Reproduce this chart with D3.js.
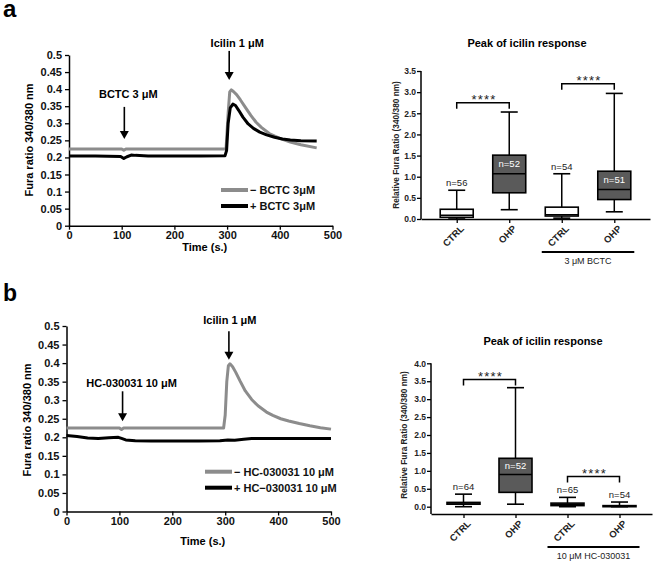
<!DOCTYPE html>
<html>
<head>
<meta charset="utf-8">
<script src="https://cdn.jsdelivr.net/npm/d3@7"></script>
<style>
  body { margin: 0; background: #fff; }
  svg { display: block; font-family: "Liberation Sans", Arial, sans-serif; }
</style>
</head>
<body>
<svg id="fig" width="660" height="563"></svg>
<script>
// ---- traces (time in s., Fura ratio 340/380) ----
const minusBctcT = [0, 50, 100, 104, 108, 150, 200, 250, 298, 302, 305, 308, 312, 318, 325, 335, 345, 355, 365, 380, 400, 420, 440, 470];
const minusBctc  = [0.225, 0.225, 0.225, 0.221, 0.225, 0.225, 0.225, 0.225, 0.225, 0.33, 0.392, 0.398, 0.393, 0.384, 0.369, 0.346, 0.323, 0.303, 0.288, 0.27, 0.256, 0.245, 0.237, 0.228];
const plusBctcT  = [0, 50, 98, 104, 110, 118, 126, 150, 200, 250, 296, 299, 302, 306, 311, 316, 322, 330, 340, 350, 362, 375, 390, 405, 420, 440, 470];
const plusBctc   = [0.204, 0.204, 0.203, 0.197, 0.202, 0.207, 0.206, 0.204, 0.204, 0.204, 0.205, 0.22, 0.3, 0.345, 0.356, 0.352, 0.338, 0.318, 0.298, 0.285, 0.274, 0.266, 0.259, 0.254, 0.251, 0.249, 0.248];

const minusHcT = [0, 100, 104, 108, 200, 297, 300, 303, 306, 309, 314, 320, 328, 338, 350, 362, 378, 390, 405, 420, 440, 460, 480, 500];
const minusHc  = [0.225, 0.225, 0.221, 0.225, 0.225, 0.225, 0.26, 0.35, 0.393, 0.398, 0.39, 0.375, 0.352, 0.325, 0.302, 0.285, 0.268, 0.259, 0.25, 0.244, 0.237, 0.231, 0.226, 0.222];
const plusHcT  = [0, 20, 40, 60, 80, 98, 104, 112, 130, 160, 200, 250, 290, 305, 318, 335, 350, 400, 450, 500];
const plusHc   = [0.205, 0.202, 0.198, 0.197, 0.199, 0.2, 0.197, 0.193, 0.191, 0.19, 0.19, 0.19, 0.191, 0.193, 0.192, 0.195, 0.197, 0.197, 0.197, 0.197];

const timeTicks  = [0, 100, 200, 300, 400, 500];
const ratioTicks = [0, 0.05, 0.1, 0.15, 0.2, 0.25, 0.3, 0.35, 0.4, 0.45, 0.5];

// ---- peak of icilin response: [min, q1, median, q3, max] ----
const groups = ['CTRL', 'OHP', 'CTRL', 'OHP'];
const boxStatsA = [[0.0, 0.04, 0.09, 0.23, 0.68], [0.22, 0.62, 1.07, 1.51, 2.53], [0.02, 0.07, 0.1, 0.28, 1.07], [0.17, 0.46, 0.7, 1.13, 2.97]];
const boxStatsB = [[0.0, 0.07, 0.1, 0.12, 0.35], [0.07, 0.4, 0.9, 1.35, 3.32], [0.0, 0.03, 0.07, 0.1, 0.26], [0.0, 0.0, 0.01, 0.03, 0.13]];
const nA = [56, 52, 54, 51];
const nB = [64, 52, 65, 54];
const ticksA = [0, 0.5, 1.0, 1.5, 2.0, 2.5, 3.0, 3.5];
const ticksB = [0, 0.5, 1.0, 1.5, 2.0, 2.5, 3.0, 3.5, 4.0];
// [from, to, height]
const bracketsA = [[0, 1, 2.75], [2, 3, 3.2]];
const bracketsB = [[0, 1, 3.55], [2, 3, 0.84]];

const GRAY = '#8c8c8c', DARK = '#5a5a5a';
const svg = d3.select('#fig');

function lineChart(g, o) {
	const x = d3.scaleLinear().domain([0, 500]).range([o.x0, o.x1]);
	const y = d3.scaleLinear().domain([0, 0.5]).range([o.y0, o.y1]);

	const yAx = g.append('g')
		.attr('transform', 'translate(' + o.x0 + ',0)')
		.call(d3.axisLeft(y).tickValues(ratioTicks).tickSize(4).tickSizeOuter(0)
			.tickFormat(d => String(+d.toFixed(2))));
	const xAx = g.append('g')
		.attr('transform', 'translate(0,' + o.y0 + ')')
		.call(d3.axisBottom(x).tickValues(timeTicks).tickSize(4).tickSizeOuter(0));
	[yAx, xAx].forEach(a => {
		a.select('.domain').attr('stroke-width', 1.5);
		a.selectAll('.tick line').attr('stroke-width', 1.3);
		a.selectAll('text').attr('font-size', 11).attr('font-weight', 'bold').attr('fill', '#111');
	});
	xAx.selectAll('text').attr('y', 6);

	g.append('text')
		.attr('x', (o.x0 + o.x1) / 2 + 4).attr('y', o.y0 + o.titleDy)
		.attr('text-anchor', 'middle').attr('font-size', 11).attr('font-weight', 'bold')
		.text('Time (s.)');
	g.append('text')
		.attr('transform', 'translate(' + o.ylx + ',' + o.yly + ') rotate(-90)')
		.attr('text-anchor', 'middle').attr('font-size', 11).attr('font-weight', 'bold')
		.text('Fura ratio 340/380 nm');

	const line = d3.line().x(d => x(d[0])).y(d => y(d[1]));
	o.series.forEach(s => {
		g.append('path')
			.datum(d3.zip(s.t, s.v))
			.attr('fill', 'none')
			.attr('stroke', s.color)
			.attr('stroke-width', 3)
			.attr('stroke-linejoin', 'round')
			.attr('d', line);
	});

	// arrows + labels
	o.arrows.forEach(a => {
		const ax = x(a.t), yTop = y(a.from), yTip = y(a.to);
		g.append('line')
			.attr('x1', ax).attr('x2', ax).attr('y1', yTop).attr('y2', yTip - 6)
			.attr('stroke', '#000').attr('stroke-width', 1.6);
		g.append('path')
			.attr('d', 'M' + (ax - 4.5) + ',' + (yTip - 8) + 'L' + (ax + 4.5) + ',' + (yTip - 8) + 'L' + ax + ',' + yTip + 'Z')
			.attr('fill', '#000');
		g.append('text')
			.attr('x', ax + a.dx).attr('y', yTop - a.dy)
			.attr('text-anchor', 'middle').attr('font-size', 11).attr('font-weight', 'bold')
			.text(a.label);
	});

	// legend
	o.series.forEach((s, i) => {
		const ly = o.legY + i * 16;
		g.append('line')
			.attr('x1', o.legX).attr('x2', o.legX + 27).attr('y1', ly).attr('y2', ly)
			.attr('stroke', s.color).attr('stroke-width', 4);
		g.append('text')
			.attr('x', o.legX + 29).attr('y', ly + 4)
			.attr('font-size', 11).attr('font-weight', 'bold').attr('fill', '#111')
			.text(s.name);
	});
}

function boxChart(g, o) {
	const x = d3.scalePoint().domain(d3.range(groups.length)).range([o.x0, o.x1]).padding(o.pad);
	const y = d3.scaleLinear().domain([0, o.yMax]).range([o.y0, o.y1]);
	const bw = 33, cw = 17;

	const yAx = g.append('g')
		.attr('transform', 'translate(' + o.x0 + ',0)')
		.call(d3.axisLeft(y).tickValues(o.ticks).tickSize(4).tickSizeOuter(0).tickFormat(d3.format('.1f')));
	yAx.select('.domain').remove();
	yAx.selectAll('.tick line').attr('stroke-width', 1.3);
	yAx.selectAll('text').attr('font-size', 8.5).attr('font-weight', 'bold').attr('x', -5).attr('fill', '#222');
	g.append('line')
		.attr('x1', o.x0).attr('x2', o.x0).attr('y1', y(o.yMax)).attr('y2', o.axisY)
		.attr('stroke', '#000').attr('stroke-width', 1.5);

	const xAx = g.append('g')
		.attr('transform', 'translate(0,' + o.axisY + ')')
		.call(d3.axisBottom(x).tickSize(4).tickSizeOuter(0).tickFormat(i => groups[i]));
	xAx.select('.domain').attr('stroke-width', 1.5);
	xAx.selectAll('.tick line').attr('stroke-width', 1.3);
	xAx.selectAll('text')
		.attr('x', 0).attr('y', 0).attr('dy', '0.35em')
		.attr('transform', 'translate(5,8) rotate(-45)')
		.style('text-anchor', 'end')
		.attr('font-size', 9.5).attr('font-weight', 'bold').attr('fill', '#222');

	g.append('text')
		.attr('x', o.titleX).attr('y', o.titleY)
		.attr('text-anchor', 'middle').attr('font-size', 11).attr('font-weight', 'bold')
		.text('Peak of icilin response');
	g.append('text')
		.attr('transform', 'translate(' + o.ylx + ',' + ((y(o.yMax) + o.y0) / 2) + ') rotate(-90)')
		.attr('text-anchor', 'middle').attr('font-size', 8.3).attr('font-weight', 'bold').attr('fill', '#222')
		.text('Relative Fura Ratio (340/380 nm)');

	const boxes = g.selectAll('.box').data(o.stats).enter().append('g')
		.attr('class', 'box')
		.attr('transform', (d, i) => 'translate(' + x(i) + ',0)');

	boxes.each(function(s, i) {
		const b = d3.select(this);
		const dark = groups[i] === 'OHP';
		b.append('line').attr('x1', 0).attr('x2', 0).attr('y1', y(s[0])).attr('y2', y(s[4]))
			.attr('stroke', '#000').attr('stroke-width', 1.5);
		[s[0], s[4]].forEach(v => {
			b.append('line').attr('x1', -cw / 2).attr('x2', cw / 2).attr('y1', y(v)).attr('y2', y(v))
				.attr('stroke', '#000').attr('stroke-width', 1.6);
		});
		b.append('rect')
			.attr('x', -bw / 2).attr('width', bw)
			.attr('y', y(s[3])).attr('height', Math.max(0.5, y(s[1]) - y(s[3])))
			.attr('fill', dark ? DARK : '#fff')
			.attr('stroke', '#000').attr('stroke-width', 1.6);
		b.append('line').attr('x1', -bw / 2).attr('x2', bw / 2).attr('y1', y(s[2])).attr('y2', y(s[2]))
			.attr('stroke', '#000').attr('stroke-width', 1.5);

		const inside = dark && (y(s[1]) - y(s[3])) > 25;
		b.append('text')
			.attr('x', 0)
			.attr('y', inside ? (y(s[3]) + y(s[2])) / 2 + 3 : y(s[4]) - 4)
			.attr('text-anchor', 'middle').attr('font-size', 9.5)
			.attr('fill', inside ? '#fff' : '#222')
			.text('n=' + o.n[i]);
	});

	o.brackets.forEach(br => {
		const x1 = x(br[0]), x2 = x(br[1]), by = y(br[2]);
		g.append('path')
			.attr('d', 'M' + x1 + ',' + (by + 6) + 'V' + by + 'H' + x2 + 'V' + (by + 6))
			.attr('fill', 'none').attr('stroke', '#000').attr('stroke-width', 1.5);
		g.append('text')
			.attr('x', (x1 + x2) / 2 + 1).attr('y', by + 1.5)
			.attr('text-anchor', 'middle').attr('font-size', 13).attr('letter-spacing', 1.2)
			.attr('fill', '#222')
			.text('****');
	});

	g.append('line')
		.attr('x1', x(2) - 20).attr('x2', x(3) + 20)
		.attr('y1', o.axisY + 33).attr('y2', o.axisY + 33)
		.attr('stroke', '#000').attr('stroke-width', 2);
	g.append('text')
		.attr('x', (x(2) + x(3)) / 2).attr('y', o.axisY + 45)
		.attr('text-anchor', 'middle').attr('font-size', 9).attr('fill', '#222')
		.text(o.groupLabel);
}

// panel letters
svg.append('text').attr('x', 3).attr('y', 17).attr('font-size', 24).attr('font-weight', 'bold').text('a');
svg.append('text').attr('x', 3).attr('y', 301).attr('font-size', 23).attr('font-weight', 'bold').text('b');

lineChart(svg.append('g'), {
	x0: 69, x1: 332.5, y0: 225.7, y1: 55,
	titleDy: 25, ylx: 33, yly: 140,
	legX: 221, legY: 190,
	series: [
		{t: minusBctcT, v: minusBctc, color: GRAY, name: '\u2212 BCTC 3\u03bcM'},
		{t: plusBctcT, v: plusBctc, color: '#000', name: '+ BCTC 3\u03bcM'}
	],
	arrows: [
		{t: 105, from: 0.348, to: 0.254, label: 'BCTC 3 \u03bcM', dx: 4, dy: 9},
		{t: 304, from: 0.512, to: 0.427, label: 'Icilin 1 \u03bcM', dx: 8, dy: 4}
	]
});

lineChart(svg.append('g'), {
	x0: 66.5, x1: 331, y0: 511.5, y1: 326,
	titleDy: 33, ylx: 31, yly: 420,
	legX: 205, legY: 471.7,
	series: [
		{t: minusHcT, v: minusHc, color: GRAY, name: '\u2212 HC-030031 10 \u03bcM'},
		{t: plusHcT, v: plusHc, color: '#000', name: '+ HC\u2212030031 10 \u03bcM'}
	],
	arrows: [
		{t: 106, from: 0.324, to: 0.243, label: 'HC-030031 10 \u03bcM', dx: 9, dy: 4},
		{t: 307, from: 0.486, to: 0.409, label: 'Icilin 1 \u03bcM', dx: 1, dy: 7}
	]
});

boxChart(svg.append('g'), {
	x0: 421, x1: 650, pad: 0.68, y0: 219, y1: 71, yMax: 3.5, axisY: 219,
	ticks: ticksA, stats: boxStatsA, n: nA, brackets: bracketsA,
	titleX: 527, titleY: 47, ylx: 399,
	groupLabel: '3 \u03bcM BCTC'
});

boxChart(svg.append('g'), {
	x0: 431, x1: 652, pad: 0.625, y0: 506.7, y1: 363.3, yMax: 4.0, axisY: 514,
	ticks: ticksB, stats: boxStatsB, n: nB, brackets: bracketsB,
	titleX: 543, titleY: 344.5, ylx: 407,
	groupLabel: '10 \u03bcM HC-030031'
});
</script>
</body>
</html>
